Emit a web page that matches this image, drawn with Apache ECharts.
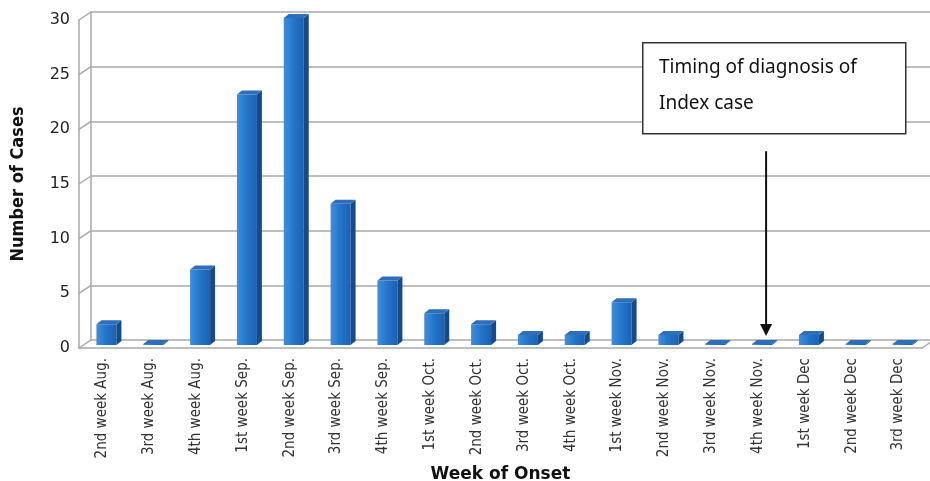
<!DOCTYPE html>
<html>
<head>
<meta charset="utf-8">
<script src="https://cdn.jsdelivr.net/npm/echarts@6/dist/echarts.min.js"></script>
<style>
  html, body { margin: 0; padding: 0; background: #fff; }
  #main { width: 930px; height: 481px; }
</style>
</head>
<body>
<div id="main"></div>
<script>
// weeks of onset and case counts
var weeks = ['2nd week Aug.', '3rd week Aug.', '4th week Aug.', '1st week Sep.', '2nd week Sep.',
  '3rd week Sep.', '4th week Sep.', '1st week Oct.', '2nd week Oct.', '3rd week Oct.',
  '4th week Oct.', '1st week Nov.', '2nd week Nov.', '3rd week Nov.', '4th week Nov.',
  '1st week Dec', '2nd week Dec', '3rd week Dec'];
var cases = [2, 0, 7, 23, 30, 13, 6, 3, 2, 1, 1, 4, 1, 0, 0, 1, 0, 0];
var yTicks = [0, 5, 10, 15, 20, 25, 30];
var indexWeek = '4th week Nov.';

var chart = echarts.init(document.getElementById('main'));

var DX = 12, DY = 8; // depth of the back wall

// 3d looking bar: front, side and top faces
function renderBar(params, api) {
  var top = api.coord([api.value(0), api.value(1)]);
  var base = api.coord([api.value(0), 0]);
  var w = 20, d = 5, r = 4;
  var x0 = top[0] - w / 2 + 4;
  var yt = top[1] - 2, yb = base[1] - 3;
  if (yb - yt < 1) yt = yb - 1;
  return {
    type: 'group',
    children: [
      {
        type: 'rect',
        shape: { x: x0, y: yt, width: w, height: yb - yt },
        style: {
          fill: new echarts.graphic.LinearGradient(0, 0, 1, 0, [
            { offset: 0, color: '#3b8fe0' },
            { offset: 0.5, color: '#2474c8' },
            { offset: 1, color: '#1b62b0' }
          ])
        }
      },
      {
        type: 'polygon',
        shape: { points: [[x0 + w, yt], [x0 + w + d, yt - r], [x0 + w + d, yb - r], [x0 + w, yb]] },
        style: { fill: '#174a86' }
      },
      {
        type: 'polygon',
        shape: { points: [[x0, yt], [x0 + d, yt - r], [x0 + w + d, yt - r], [x0 + w, yt]] },
        style: { fill: '#2d6fb8' }
      }
    ]
  };
}

// little diagonals joining the front axis to the back wall
function renderDiag(params, api) {
  var p = api.coord([0, api.value(1)]);
  var x = params.coordSys.x;
  var lines = [{
    type: 'line',
    shape: { x1: x, y1: p[1], x2: x + DX, y2: p[1] - DY },
    style: { stroke: '#a9a9a9', lineWidth: 1.5 }
  }];
  if (api.value(1) === 0) {
    var xr = params.coordSys.x + params.coordSys.width;
    lines.push({
      type: 'line',
      shape: { x1: xr, y1: p[1], x2: xr + DX, y2: p[1] - DY },
      style: { stroke: '#a9a9a9', lineWidth: 1.5 }
    });
  }
  return { type: 'group', children: lines };
}

var narrow = '"Liberation Sans Narrow", "DejaVu Sans Condensed", sans-serif';

chart.setOption({
  animation: false,
  backgroundColor: '#fff',
  grid: [
    { left: 79, right: 8, top: 20, bottom: 133, outerBoundsMode: 'none', containLabel: false },
    { left: 79 + DX, right: 0, top: 20 - DY, bottom: 133 + DY, outerBoundsMode: 'none', containLabel: false }
  ],
  xAxis: [
    {
      type: 'category',
      gridIndex: 0,
      data: weeks,
      axisLine: { lineStyle: { color: '#a9a9a9', width: 1.5 } },
      axisTick: { show: false },
      axisLabel: {
        rotate: 90,
        interval: 0,
        margin: 10,
        color: '#333',
        fontSize: 15,
        fontFamily: narrow
      },
      name: 'Week of Onset',
      nameLocation: 'middle',
      nameGap: 108,
      nameTextStyle: { fontSize: 17, fontWeight: 'bold', color: '#111', fontFamily: '"DejaVu Sans", sans-serif' }
    },
    {
      type: 'category',
      gridIndex: 1,
      data: weeks,
      show: false
    }
  ],
  yAxis: [
    {
      type: 'value',
      gridIndex: 0,
      min: 0,
      max: 30,
      interval: 5,
      axisLine: { show: true, lineStyle: { color: '#a9a9a9', width: 1.5 } },
      axisTick: { show: false },
      splitLine: { show: false },
      axisLabel: { color: '#222', fontSize: 16, margin: 9, fontFamily: '"DejaVu Sans", sans-serif' },
      name: 'Number of Cases',
      nameLocation: 'middle',
      nameGap: 52,
      nameTextStyle: { fontSize: 18, fontWeight: 'bold', color: '#111', fontFamily: narrow }
    },
    {
      type: 'value',
      gridIndex: 1,
      min: 0,
      max: 30,
      interval: 5,
      axisLine: { show: true, lineStyle: { color: '#a9a9a9', width: 1.5 } },
      axisTick: { show: false },
      axisLabel: { show: false },
      splitLine: { show: true, lineStyle: { color: '#a9a9a9', width: 1.5 } }
    }
  ],
  series: [
    {
      type: 'custom',
      xAxisIndex: 0,
      yAxisIndex: 0,
      renderItem: renderDiag,
      data: yTicks.map(function (v) { return [0, v]; }),
      silent: true,
      z: 1
    },
    {
      type: 'custom',
      name: 'Cases',
      xAxisIndex: 0,
      yAxisIndex: 0,
      renderItem: renderBar,
      data: cases.map(function (v, i) { return [i, v]; }),
      z: 3
    }
  ]
});

// annotation box and arrow pointing at the index case week
var ax = chart.convertToPixel({ xAxisIndex: 0 }, indexWeek) + 8;
var ayTop = chart.convertToPixel({ yAxisIndex: 0 }, 18);
var ayBot = chart.convertToPixel({ yAxisIndex: 0 }, 1.1);

chart.setOption({
  graphic: [
    {
      type: 'rect',
      left: 642, top: 42,
      shape: { width: 263, height: 91 },
      style: { fill: '#fff', stroke: '#333', lineWidth: 1.5 },
      z: 10
    },
    {
      type: 'text',
      left: 659, top: 50,
      style: {
        text: 'Timing of diagnosis of\nIndex case',
        font: '19px "Noto Sans", sans-serif',
        lineHeight: 36,
        fill: '#111'
      },
      z: 11
    },
    {
      type: 'line',
      shape: { x1: ax, y1: ayTop, x2: ax, y2: ayBot - 10 },
      style: { stroke: '#111', lineWidth: 2 },
      z: 10
    },
    {
      type: 'polygon',
      shape: { points: [[ax - 6, ayBot - 12], [ax + 6, ayBot - 12], [ax, ayBot]] },
      style: { fill: '#111' },
      z: 10
    }
  ]
});
</script>
</body>
</html>
